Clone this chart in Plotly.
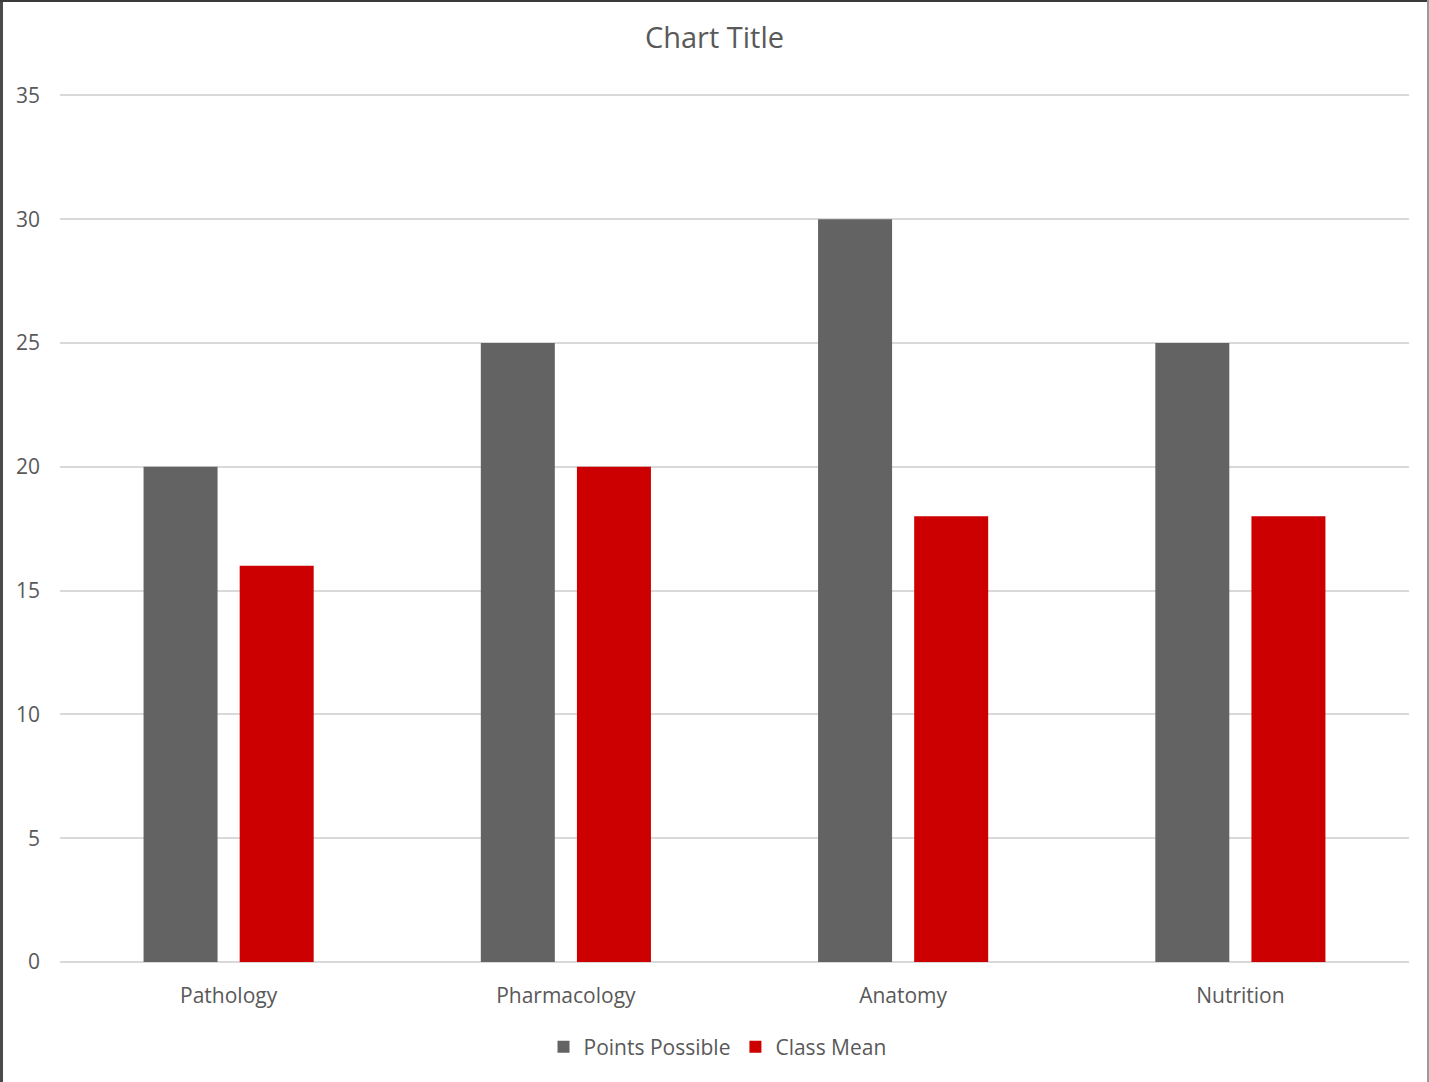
import plotly.graph_objects as go

categories = ["Pathology", "Pharmacology", "Anatomy", "Nutrition"]
points_possible = [20, 25, 30, 25]
class_mean = [16, 20, 18, 18]
y_ticks = [0, 5, 10, 15, 20, 25, 30, 35]

font_family = "Open Sans, Liberation Sans, sans-serif"
text_color = "#595959"

fig = go.Figure()
fig.add_trace(go.Bar(x=categories, y=points_possible, name="Points Possible",
                     marker=dict(color="#636363", line=dict(width=0))))
fig.add_trace(go.Bar(x=categories, y=class_mean, name="Class Mean",
                     marker=dict(color="#cc0000", line=dict(width=0))))

W, H = 1429, 1082
y_top = 35.3
ml, mr, mb = 60, 20, 120
mt = round(962 - (962 - 95) * y_top / 35)

fig.update_layout(
    width=W, height=H,
    margin=dict(l=ml, r=mr, t=mt, b=mb),
    paper_bgcolor="white", plot_bgcolor="white",
    barmode="group", bargap=0.43, bargroupgap=0.23,
    title=dict(text="Chart Title", x=0.5, xanchor="center", y=1 - 38 / H, yanchor="middle",
               font=dict(family=font_family, size=29, color=text_color)),
    font=dict(family=font_family, color=text_color, size=21),
    xaxis=dict(showgrid=False, showline=False, ticks="", tickfont=dict(size=21, color=text_color),
               ticklabelstandoff=19),
    yaxis=dict(range=[0, y_top], tickvals=y_ticks, showgrid=True, gridcolor="#d9d9d9", gridwidth=2,
               zeroline=True, zerolinecolor="#d9d9d9", zerolinewidth=2, showline=False, ticks="",
               tickfont=dict(size=21, color=text_color), ticklabelstandoff=19),
    legend=dict(orientation="h", x=0.5 - 17 / (W - ml - mr), xanchor="center",
                y=-(1047 - 962) / (H - mt - mb), yanchor="middle",
                font=dict(size=21, color=text_color), itemwidth=30, traceorder="normal"),
    showlegend=True,
)

# window frame edges
pw = W - ml - mr
ph = H - mt - mb
def px_x(x):
    return (x - ml) / pw
def px_y(y):
    return 1 - (y - mt) / ph
fig.add_shape(type="rect", xref="paper", yref="paper", x0=px_x(0), x1=px_x(3), y0=px_y(H), y1=px_y(0),
              fillcolor="#4a4a4a", line=dict(width=0), layer="above")
fig.add_shape(type="rect", xref="paper", yref="paper", x0=px_x(0), x1=px_x(W), y0=px_y(2), y1=px_y(0),
              fillcolor="#3a3a3a", line=dict(width=0), layer="above")
fig.add_shape(type="rect", xref="paper", yref="paper", x0=px_x(W - 2), x1=px_x(W), y0=px_y(H), y1=px_y(0),
              fillcolor="#9a9a9a", line=dict(width=0), layer="above")

fig.write_html("out.html", config={"displayModeBar": False},
               post_script="document.body.style.margin='0';")
